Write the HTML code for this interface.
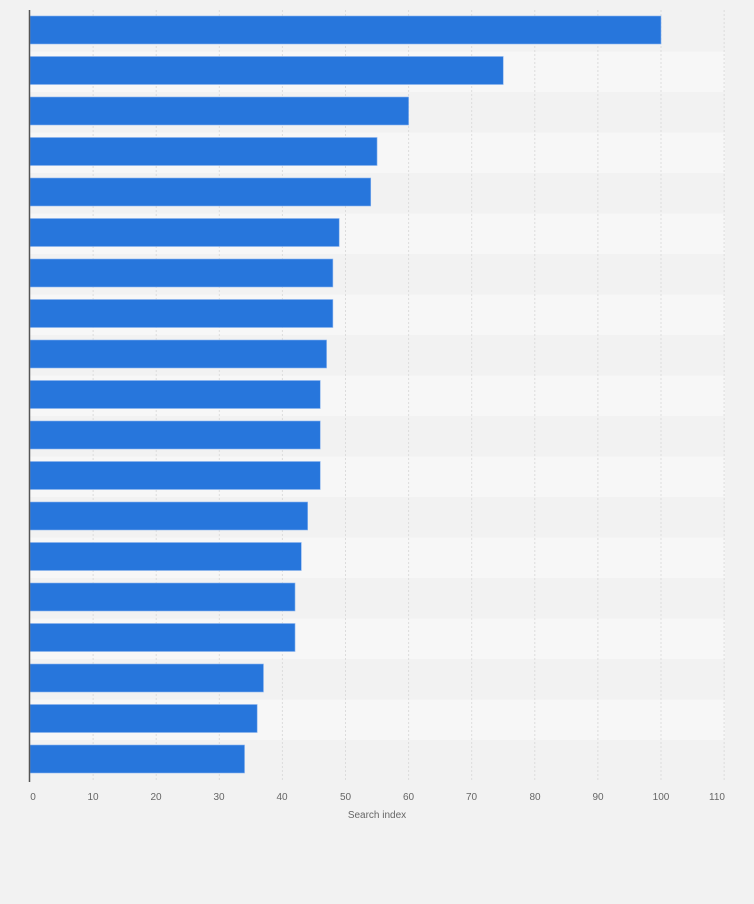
<!DOCTYPE html><html><head><style>body{margin:0;background:#f2f2f2}</style></head><body>
<svg width="754" height="899" xmlns="http://www.w3.org/2000/svg" font-family="Liberation Sans, sans-serif">
<rect width="754" height="899" fill="#f2f2f2"/>
<g fill="#f7f7f7">
<rect x="30" y="51.5" width="695" height="40.5"/><rect x="30" y="132.5" width="695" height="40.5"/><rect x="30" y="213.5" width="695" height="40.5"/><rect x="30" y="294.5" width="695" height="40.5"/><rect x="30" y="375.5" width="695" height="40.5"/><rect x="30" y="456.5" width="695" height="40.5"/><rect x="30" y="537.5" width="695" height="40.5"/><rect x="30" y="618.5" width="695" height="40.5"/><rect x="30" y="699.5" width="695" height="40.5"/>
</g>
<g stroke="#dcdcdc" stroke-dasharray="2,2">
<line x1="93.1" y1="10" x2="93.1" y2="782"/><line x1="156.2" y1="10" x2="156.2" y2="782"/><line x1="219.3" y1="10" x2="219.3" y2="782"/><line x1="282.4" y1="10" x2="282.4" y2="782"/><line x1="345.5" y1="10" x2="345.5" y2="782"/><line x1="408.6" y1="10" x2="408.6" y2="782"/><line x1="471.7" y1="10" x2="471.7" y2="782"/><line x1="534.8" y1="10" x2="534.8" y2="782"/><line x1="597.9" y1="10" x2="597.9" y2="782"/><line x1="661" y1="10" x2="661" y2="782"/><line x1="724.1" y1="10" x2="724.1" y2="782"/>
</g>
<g fill="#2776dc" stroke="#8ab4ee" stroke-width="0.6">
<rect x="30" y="16" width="631" height="28"/>
<rect x="30" y="56.5" width="473.25" height="28"/>
<rect x="30" y="97" width="378.6" height="28"/>
<rect x="30" y="137.5" width="347.05" height="28"/>
<rect x="30" y="178" width="340.74" height="28"/>
<rect x="30" y="218.5" width="309.19" height="28"/>
<rect x="30" y="259" width="302.88" height="28"/>
<rect x="30" y="299.5" width="302.88" height="28"/>
<rect x="30" y="340" width="296.57" height="28"/>
<rect x="30" y="380.5" width="290.26" height="28"/>
<rect x="30" y="421" width="290.26" height="28"/>
<rect x="30" y="461.5" width="290.26" height="28"/>
<rect x="30" y="502" width="277.64" height="28"/>
<rect x="30" y="542.5" width="271.33" height="28"/>
<rect x="30" y="583" width="265.02" height="28"/>
<rect x="30" y="623.5" width="265.02" height="28"/>
<rect x="30" y="664" width="233.47" height="28"/>
<rect x="30" y="704.5" width="227.16" height="28"/>
<rect x="30" y="745" width="214.54" height="28"/>
</g>
<line x1="29.5" y1="10" x2="29.5" y2="782" stroke="#555" stroke-width="1.5"/>
<g font-size="10" fill="#666" text-anchor="middle">
<text x="33" y="800">0</text><text x="93" y="800">10</text><text x="156" y="800">20</text><text x="219" y="800">30</text><text x="282" y="800">40</text><text x="345.5" y="800">50</text><text x="408.5" y="800">60</text><text x="471.5" y="800">70</text><text x="535" y="800">80</text><text x="598" y="800">90</text><text x="661" y="800">100</text><text x="717" y="800">110</text>
<text x="377" y="818">Search index</text>
</g>
</svg></body></html>
